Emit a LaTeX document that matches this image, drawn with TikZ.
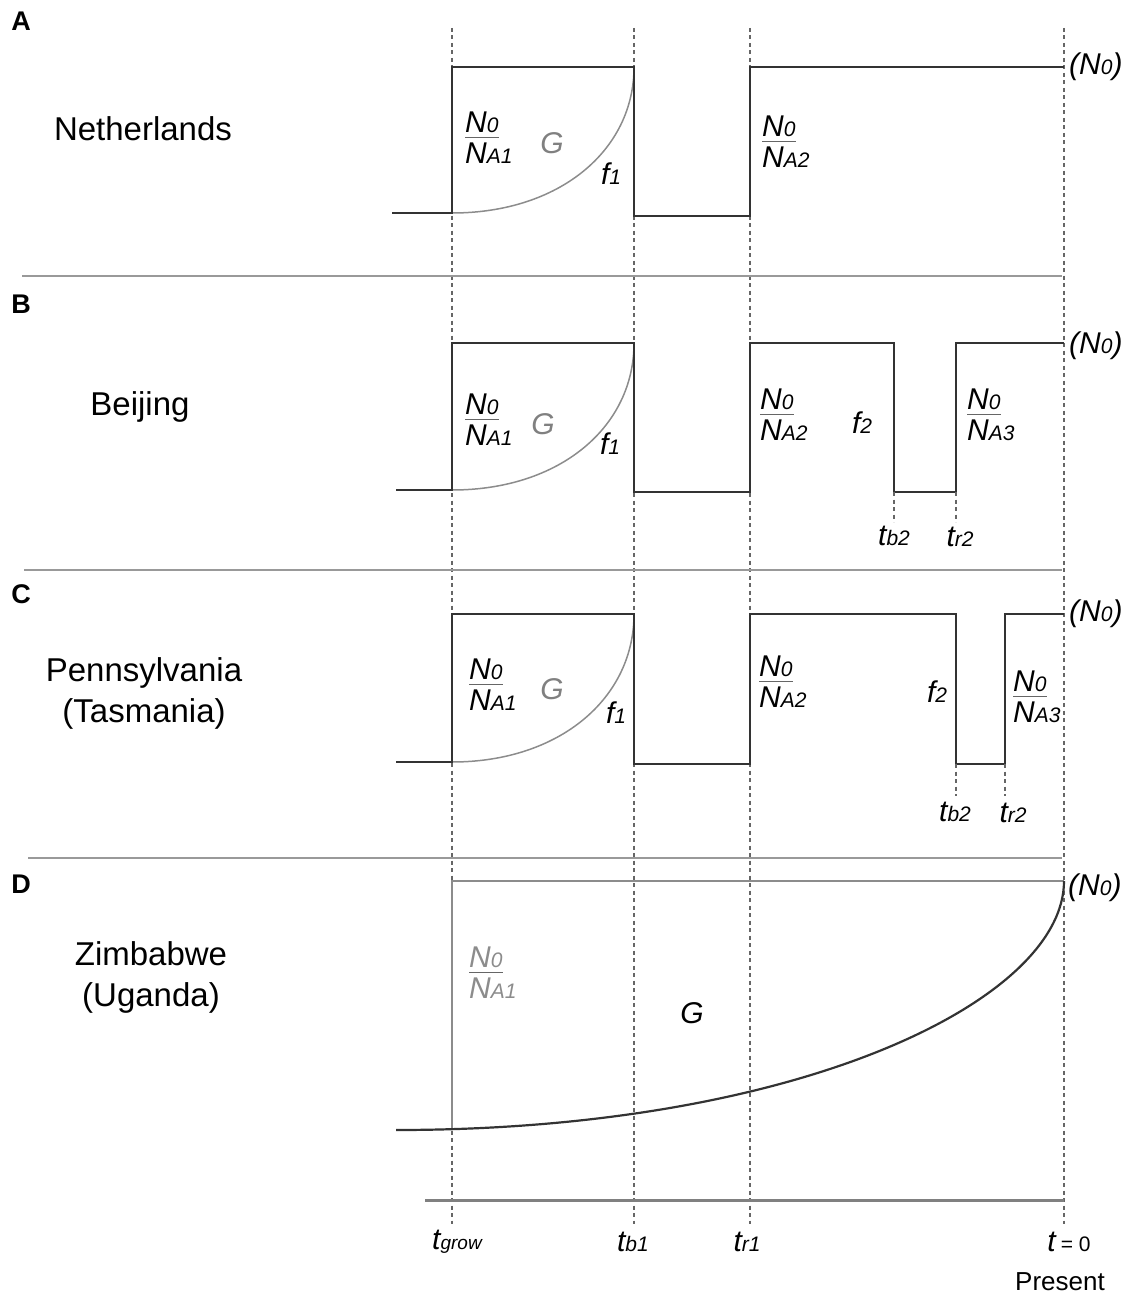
\documentclass[tikz,border=0pt]{standalone}
\usepackage{fontspec}
\setmainfont{Liberation Sans}

% subscript set at the baseline, as in the population-size labels
\newcommand\sbs[1]{{\fontsize{21}{22}\selectfont #1}}
\newcommand\sbsmall[1]{{\fontsize{19}{20}\selectfont #1}}
% ratio N0 / N_A with a left-aligned bar as long as the numerator
\newcommand\ratio[2]{\setbox0=\hbox{#1}\vbox{\copy0\kern4pt{\color{black!60}\hrule height1.4pt width\wd0}\kern5pt\hbox{#2}}}

\tikzset{
  guide/.style={draw=black!60, line width=2.4pt, dash pattern=on 4pt off 3.5pt},
  trace/.style={draw=black!80, line width=2.2pt, line join=miter},
  growth/.style={draw=black!45, line width=1.5pt},
  divider/.style={draw=black!40, line width=1.8pt},
  axisline/.style={draw=black!50, line width=3pt},
  region/.style={font=\fontsize{33}{41}\selectfont, align=center, inner sep=0pt},
  panel/.style={font=\bfseries\fontsize{27}{30}\selectfont, inner sep=0pt},
  lab/.style={font=\itshape\fontsize{30}{33}\selectfont, inner sep=0pt},
  ratiolab/.style={lab, anchor=west},
}

\begin{document}
\begin{tikzpicture}[x=1pt, y=-1pt]
\useasboundingbox (0,0) rectangle (1126,1295);

% time guides
\foreach \gx in {452,634,750,1064}
  \draw[guide] (\gx,28) -- (\gx,1224);

% panel dividers and time axis
\draw[divider] (22,276) -- (1062,276);
\draw[divider] (24,570) -- (1062,570);
\draw[divider] (28,858) -- (1062,858);
\draw[axisline] (425,1200) -- (1064,1200);

% ---------------- A: Netherlands
\draw[growth] (452,213) .. controls (560,213) and (634,150) .. (634,67);
\draw[trace] (392,213) -- (452,213) -- (452,67) -- (634,67) -- (634,216)
  -- (750,216) -- (750,67) -- (1064,67);
\node[panel] (pA) at (21,21) {A};
\node[region] (rA) at (143,129) {Netherlands};
\node[ratiolab] (a1) at (465,138) {\ratio{N\sbs{0}}{N\sbs{A1}}};
\node[lab, text=black!50] (aG) at (552,143) {G};
\node[lab] (af) at (611,174) {f\sbs{1}};
\node[ratiolab] (a2) at (762,142) {\ratio{N\sbs{0}}{N\sbs{A2}}};
\node[lab, anchor=west] (aN) at (1069,67) {(N\sbs{0})};

% ---------------- B: Beijing
\draw[growth] (452,490) .. controls (560,490) and (634,427) .. (634,343);
\draw[trace] (396,490) -- (452,490) -- (452,343) -- (634,343) -- (634,492)
  -- (750,492) -- (750,343) -- (894,343) -- (894,492) -- (956,492)
  -- (956,343) -- (1064,343);
\draw[guide] (894,492) -- (894,522);
\draw[guide] (956,492) -- (956,522);
\node[panel] (pB) at (21,304) {B};
\node[region] (rB) at (140,407) {Beijing};
\node[ratiolab] (b1) at (465,420) {\ratio{N\sbs{0}}{N\sbs{A1}}};
\node[lab, text=black!50] (bG) at (543,424) {G};
\node[lab] (bf) at (610,444) {f\sbs{1}};
\node[ratiolab] (b2) at (760,415) {\ratio{N\sbs{0}}{N\sbs{A2}}};
\node[lab] (bf2) at (862,423) {f\sbs{2}};
\node[ratiolab] (b3) at (967,415) {\ratio{N\sbs{0}}{N\sbs{A3}}};
\node[lab] (btb) at (894,536) {t\sbs{b2}};
\node[lab] (btr) at (960,537) {t\sbs{r2}};
\node[lab, anchor=west] (bN) at (1069,346) {(N\sbs{0})};

% ---------------- C: Pennsylvania (Tasmania)
\draw[growth] (452,762) .. controls (560,762) and (634,698) .. (634,614);
\draw[trace] (396,762) -- (452,762) -- (452,614) -- (634,614) -- (634,764)
  -- (750,764) -- (750,614) -- (956,614) -- (956,764) -- (1005,764)
  -- (1005,614) -- (1064,614);
\draw[guide] (956,764) -- (956,796);
\draw[guide] (1005,764) -- (1005,796);
\node[panel] (pC) at (21,594) {C};
\node[region] (rC) at (144,693) {Pennsylvania\\(Tasmania)};
\node[ratiolab] (c1) at (469,685) {\ratio{N\sbs{0}}{N\sbs{A1}}};
\node[lab, text=black!50] (cG) at (552,689) {G};
\node[lab] (cf) at (616,713) {f\sbs{1}};
\node[ratiolab] (c2) at (759,682) {\ratio{N\sbs{0}}{N\sbs{A2}}};
\node[lab] (cf2) at (937,692) {f\sbs{2}};
\node[ratiolab] (c3) at (1013,697) {\ratio{N\sbs{0}}{N\sbs{A3}}};
\node[lab] (ctb) at (955,812) {t\sbs{b2}};
\node[lab] (ctr) at (1013,813) {t\sbs{r2}};
\node[lab, anchor=west] (cN) at (1069,614) {(N\sbs{0})};

% ---------------- D: Zimbabwe (Uganda)
\draw[growth] (452,1130) -- (452,881) -- (1064,881);
\draw[trace] (396,1130) .. controls (800,1130) and (1064,1000) .. (1064,881);
\node[panel] (pD) at (21,884) {D};
\node[region] (rD) at (151,977) {Zimbabwe\\(Uganda)};
\node[ratiolab, text=black!45] (d1) at (469,973)
  {\ratio{N\sbs{0}}{N\sbs{A1}}};
\node[lab] (dG) at (692,1013) {G};
\node[lab, anchor=west] (dN) at (1068,888) {(N\sbs{0})};

% ---------------- time axis labels
\node[lab] (tg) at (457,1242) {t\sbsmall{grow}};
\node[lab] (tb) at (633,1242) {t\sbs{b1}};
\node[lab] (tr) at (747,1242) {t\sbs{r1}};
\node[lab] (tz) at (1069,1242) {t\,{\upshape\fontsize{21}{22}\selectfont = 0}};
\node[font=\fontsize{26}{30}\selectfont, inner sep=0pt] (pr) at (1060,1282) {Present};
\end{tikzpicture}
\end{document}
